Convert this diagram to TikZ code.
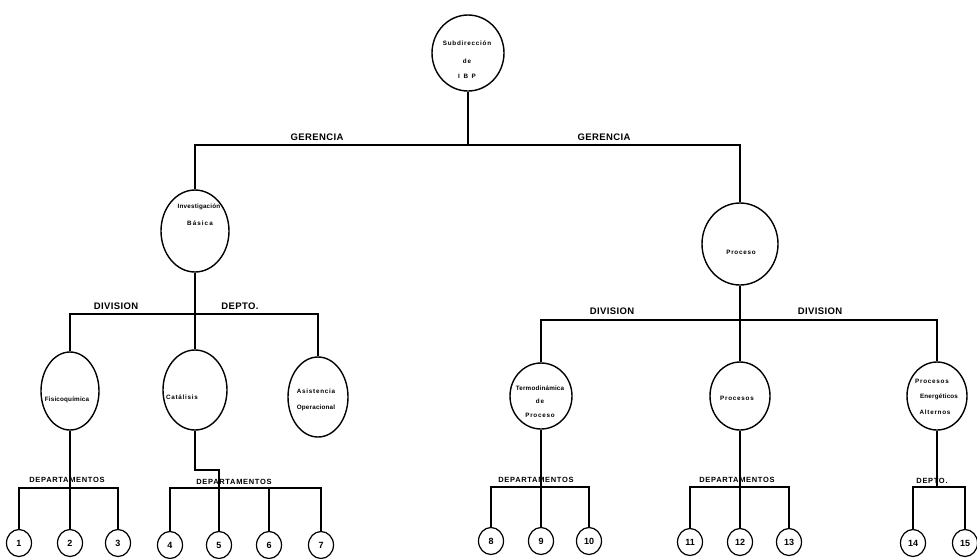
\documentclass[tikz,border=0pt]{standalone}
\usepackage{fontspec}
\setmainfont{Liberation Sans}
\newfontfamily\lblfont[LetterSpace=4]{Liberation Sans}
\newfontfamily\deptfont[LetterSpace=9]{Liberation Sans}
\newfontfamily\smallfont[LetterSpace=12]{Liberation Sans}
\newfontfamily\tightfont[LetterSpace=3]{Liberation Sans}
\usetikzlibrary{shapes.geometric}
\begin{document}
\begin{tikzpicture}[x=1pt,y=-1pt,
  conn/.style={line width=1.4pt},
  box/.style={ellipse, draw, line width=1.4pt, inner sep=0pt},
  num/.style={ellipse, draw, line width=1.2pt, minimum width=25pt, minimum height=27pt, inner sep=0pt, font=\bfseries\fontsize{9}{10}\selectfont},
  lbl/.style={font=\lblfont\bfseries\fontsize{9.5}{10}\selectfont, inner sep=0pt},
  sub/.style={font=\deptfont\bfseries\fontsize{7.5}{8}\selectfont, inner sep=0pt},
  itxt/.style={font=\smallfont\bfseries\fontsize{6.3}{7}\selectfont, inner sep=0pt},
  itxtn/.style={font=\tightfont\bfseries\fontsize{6.3}{7}\selectfont, inner sep=0pt},
]
\useasboundingbox (0,0) rectangle (977,558);
\fill[white] (0,0) rectangle (977,558);

% main ellipses
\node[box, minimum width=72pt, minimum height=76pt] (sub) at (468,53) {};
\node[box, minimum width=68pt, minimum height=82pt] (inv) at (195,231) {};
\node[box, minimum width=76pt, minimum height=82pt] (pro) at (740,244) {};
\node[box, minimum width=58pt, minimum height=78pt] (fis) at (70,391) {};
\node[box, minimum width=64pt, minimum height=80pt] (cat) at (195,390) {};
\node[box, minimum width=60pt, minimum height=80pt] (asi) at (318,397) {};
\node[box, minimum width=62pt, minimum height=66pt] (ter) at (541,396) {};
\node[box, minimum width=60pt, minimum height=68pt] (prs) at (740,396) {};
\node[box, minimum width=60pt, minimum height=68pt] (pea) at (937,396) {};

% inner texts
\node[itxt] (t1) at (467,43) {Subdirección};
\node[itxt] (t2) at (467,61) {de};
\node[itxt] (t3) at (467,76) {I\, B\, P};
\node[itxtn] (t4) at (199,207) {Investigación};
\node[itxt] (t5) at (200,223) {B\,á\,s\,i\,c\,a};
\node[itxt] (t6) at (741,252) {Proceso};
\node[itxtn] (t7) at (67,400) {Fisicoquímica};
\node[itxt] (t8) at (182,397) {Catálisis};
\node[itxt] (t9) at (316,391) {Asistencia};
\node[itxtn] (t10) at (316,408) {Operacional};
\node[itxtn] (t11) at (540,388) {Termodinámica};
\node[itxt] (t12) at (540,401) {de};
\node[itxt] (t13) at (540,415) {Proceso};
\node[itxt] (t14) at (737,398) {Procesos};
\node[itxt] (t15) at (932,381) {Procesos};
\node[itxtn] (t16) at (939,397) {Energéticos};
\node[itxt] (t17) at (935,412) {Alternos};

% numbered circles
\node[num] (n1) at (19,543) {1};
\node[num] (n2) at (70,543) {2};
\node[num] (n3) at (118,543) {3};
\node[num] (n4) at (170,545) {4};
\node[num] (n5) at (219,545) {5};
\node[num] (n6) at (269,545) {6};
\node[num] (n7) at (321,545) {7};
\node[num] (n8) at (491,541) {8};
\node[num] (n9) at (541,541) {9};
\node[num] (n10) at (589,541) {10};
\node[num] (n11) at (690,542) {11};
\node[num] (n12) at (740,542) {12};
\node[num] (n13) at (789,542) {13};
\node[num] (n14) at (913,543) {14};
\node[num] (n15) at (965,543) {15};

% junctions
\coordinate (g) at (468,145);
\coordinate (dl) at (195,314);
\coordinate (dr) at (740,320);
\coordinate (e1) at (70,488);
\coordinate (cj) at (195,470);
\coordinate (e2) at (219,488);
\coordinate (e3) at (541,487);
\coordinate (e4) at (740,487);
\coordinate (e5) at (937,487);

% connectors
\draw[conn] (sub.south) -- (g);
\draw[conn] (inv.north) |- (g) -| (pro.north);
\draw[conn] (inv.south) -- (cat.north);
\draw[conn] (fis.north) |- (dl) -| (asi.north);
\draw[conn] (pro.south) -- (prs.north);
\draw[conn] (ter.north) |- (dr) -| (pea.north);
\draw[conn] (fis.south) -- (n2.north);
\draw[conn] (n1.north) |- (e1) -| (n3.north);
\draw[conn] (cat.south) -- (cj) -| (n5.north);
\draw[conn] (n4.north) |- (e2) -| (n7.north);
\draw[conn] (n6.north) -- (n6.north |- e2);
\draw[conn] (ter.south) -- (n9.north);
\draw[conn] (n8.north) |- (e3) -| (n10.north);
\draw[conn] (prs.south) -- (n12.north);
\draw[conn] (n11.north) |- (e4) -| (n13.north);
\draw[conn] (pea.south) -- (e5);
\draw[conn] (n14.north) |- (e5) -| (n15.north);

% labels
\node[lbl] (l1) at (317,137) {GERENCIA};
\node[lbl] (l2) at (604,137) {GERENCIA};
\node[lbl] (l3) at (116,306) {DIVISION};
\node[lbl] (l4) at (240,306) {DEPTO.};
\node[lbl] (l5) at (612,311) {DIVISION};
\node[lbl] (l6) at (820,311) {DIVISION};
\node[sub] (l7) at (67,480) {DEPARTAMENTOS};
\node[sub] (l8) at (234,482) {DEPARTAMENTOS};
\node[sub] (l9) at (536,480) {DEPARTAMENTOS};
\node[sub] (l10) at (737,480) {DEPARTAMENTOS};
\node[sub] (l11) at (932,481) {DEPTO.};
\end{tikzpicture}
\end{document}
